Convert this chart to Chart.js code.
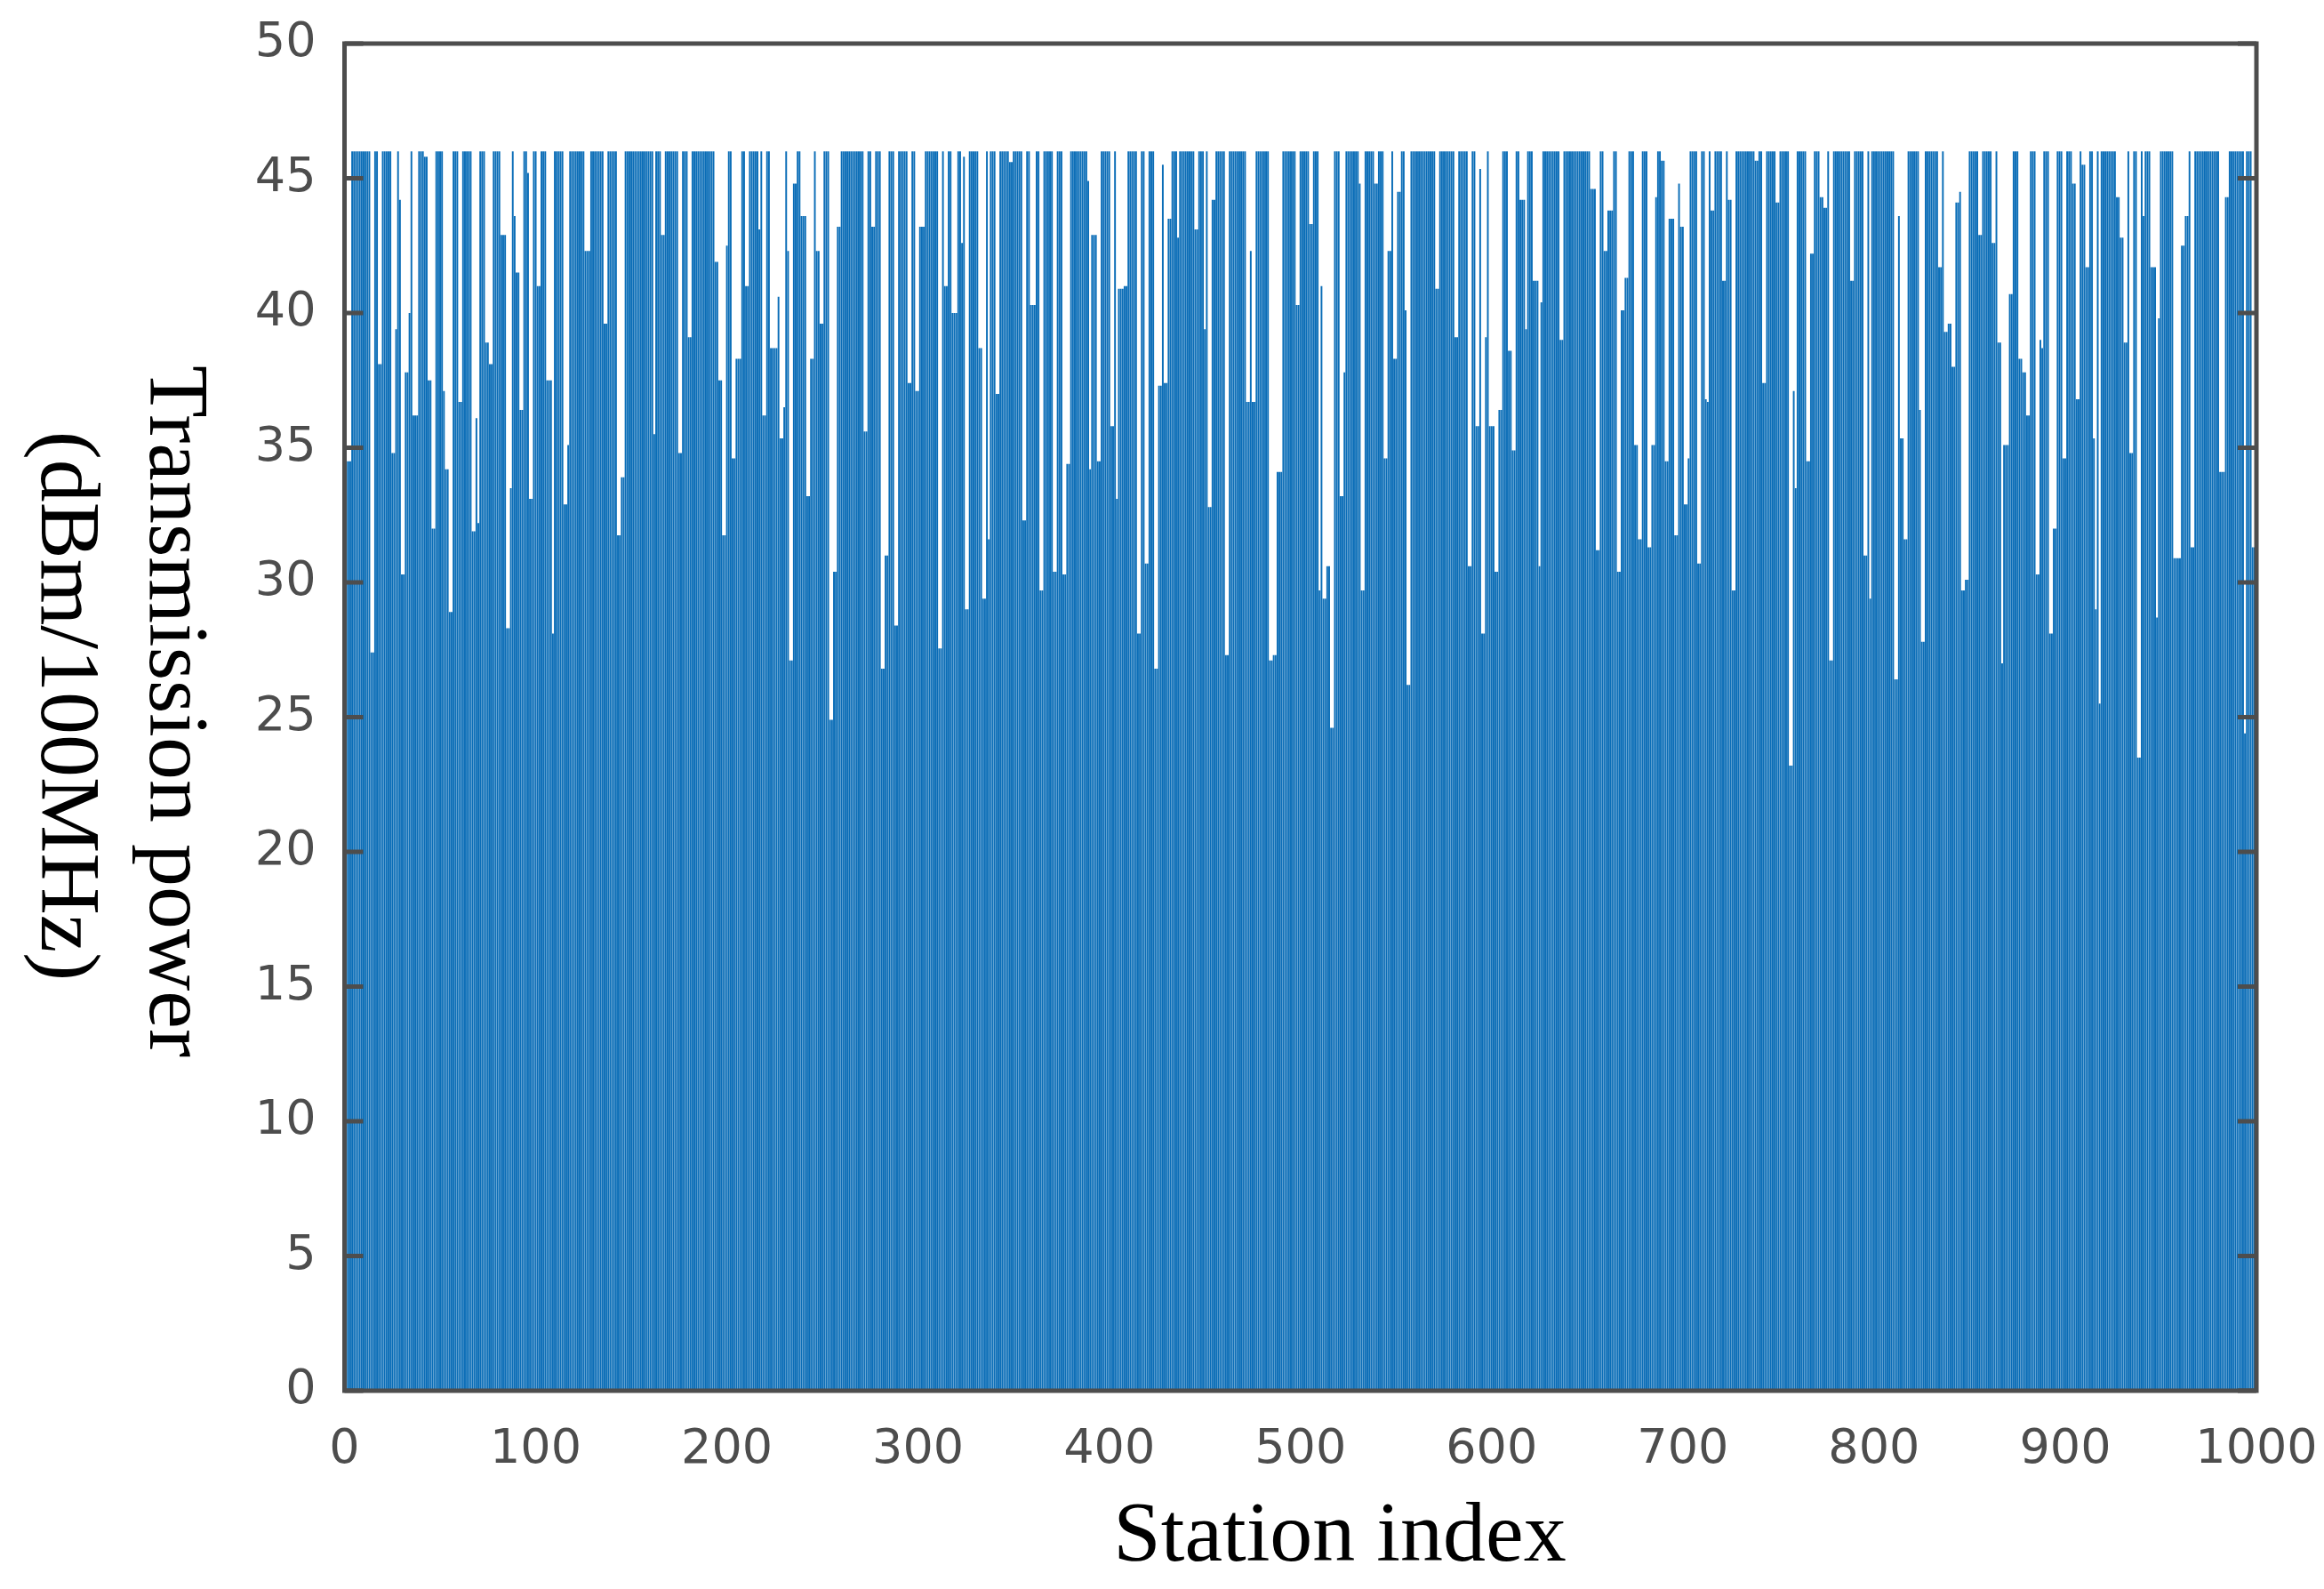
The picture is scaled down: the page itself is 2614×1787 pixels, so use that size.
<!DOCTYPE html>
<html>
<head>
<meta charset="utf-8">
<script src="https://cdn.jsdelivr.net/npm/chart.js@4.4.1/dist/chart.umd.min.js"></script>
<style>
  html, body { margin: 0; padding: 0; background: #ffffff; }
  #wrap { width: 2614px; height: 1787px; }
</style>
</head>
<body>
<div id="wrap"><canvas id="c" width="2614" height="1787"></canvas></div>
<script>
// ---- data ----
const xTicks = [0, 100, 200, 300, 400, 500, 600, 700, 800, 900, 1000];
const yTicks = [0, 5, 10, 15, 20, 25, 30, 35, 40, 45, 50];
const xTitle = 'Station index';
const yTitleLines = ['Transmission power', '(dBm/100MHz)'];

// transmission power of stations 1..1000 (dBm/100MHz)
const power = [
34.5,34.5,34.5,46,46,46,46,46,46,46,
46,46,46,27.4,27.4,46,46,38.1,38.1,46,
46,46,46,46,34.8,34.8,39.4,46,44.2,30.3,
30.3,37.8,37.8,40,46,36.2,36.2,36.2,46,46,
46,45.8,45.8,37.5,37.5,32,32,46,46,46,
46,37.1,34.2,34.2,28.9,28.9,46,46,46,36.7,
36.7,46,46,46,46,46,31.9,31.9,36.1,32.2,
46,46,46,38.9,38.9,38.1,38.1,46,46,46,
46,42.9,42.9,42.9,28.3,28.3,33.5,46,43.6,41.5,
41.5,36.4,36.4,46,46,45.2,33.1,33.1,46,46,
41,41,46,46,46,37.5,37.5,37.5,28.1,46,
46,46,46,46,32.9,32.9,35.1,46,46,46,
46,46,46,46,46,42.3,42.3,42.3,46,46,
46,46,46,46,46,39.6,39.6,46,46,46,
46,46,31.75,31.75,33.9,33.9,46,46,46,46,
46,46,46,46,46,46,46,46,46,46,
46,35.5,46,46,46,42.9,42.9,46,46,46,
46,46,46,46,34.8,34.8,46,46,46,39.1,
39.1,46,46,46,46,46,46,46,46,46,
46,46,46,41.9,41.9,37.5,37.5,31.75,31.75,42.5,
46,46,34.6,34.6,38.3,38.3,38.3,46,46,41,
41,46,46,46,46,46,43.1,46,36.2,36.2,
46,46,38.7,38.7,38.7,38.7,40.6,35.35,35.35,36.5,
46,42.3,27.1,27.1,44.8,44.8,46,46,43.6,43.6,
43.6,33.2,33.2,38.3,38.3,46,42.3,42.3,39.6,39.6,
46,46,46,24.9,24.9,30.4,30.4,43.2,43.2,46,
46,46,46,46,46,46,46,46,46,46,
46,35.6,35.6,46,46,43.2,43.2,46,46,46,
26.8,26.8,31,31,46,46,46,28.4,28.4,46,
46,46,46,46,37.4,37.4,46,46,37.1,37.1,
43.2,43.2,43.2,46,46,46,46,46,46,46,
27.55,27.55,46,41,41,46,46,40,40,40,
46,46,42.6,45.8,29,29,46,46,46,46,
46,38.7,38.7,29.4,29.4,46,31.6,46,46,46,
37,37,46,46,46,46,46,45.6,45.6,46,
46,46,46,46,32.3,32.3,46,46,40.3,40.3,
40.3,46,46,29.7,29.7,46,46,46,46,46,
30.4,30.4,46,46,46,30.3,30.3,34.4,34.4,46,
46,46,46,46,46,46,46,46,44.9,34.2,
42.9,42.9,42.9,34.5,34.5,46,46,46,46,46,
35.8,35.8,46,33.1,40.9,40.9,40.9,41,41,46,
46,46,46,46,28.1,28.1,46,46,30.7,30.7,
46,46,46,26.8,26.8,37.3,37.3,45.5,37.4,37.4,
43.5,43.5,46,46,46,42.8,46,46,46,46,
46,46,46,46,43.1,43.1,46,46,46,39.4,
46,32.8,32.8,44.2,44.2,46,46,46,46,46,
27.3,27.3,46,46,46,46,46,46,46,46,
46,36.7,36.7,42.3,36.7,36.7,46,46,46,46,
46,46,46,27.1,27.1,27.3,27.3,34.1,34.1,34.1,
46,46,46,46,46,46,46,40.3,40.3,46,
46,46,46,46,43.3,43.3,46,46,46,29.7,
41,29.4,29.4,30.6,30.6,24.6,24.6,46,46,46,
33.2,33.2,37.8,46,46,46,46,46,46,46,
44.8,29.7,29.7,46,46,46,46,46,44.8,44.8,
46,46,46,34.6,34.6,42.3,42.3,46,38.3,38.3,
44.5,44.5,46,46,40.1,26.2,26.2,46,46,46,
46,46,46,46,46,46,46,46,46,46,
40.9,40.9,46,46,46,46,46,46,46,46,
39.1,39.1,46,46,46,46,46,30.6,30.6,46,
46,35.8,35.8,45.35,28.1,28.1,39.1,46,35.8,35.8,
35.8,30.4,30.4,36.4,36.4,46,46,46,38.6,38.6,
34.9,34.9,46,46,44.2,44.2,44.2,39.4,46,46,
46,41.2,41.2,41.2,30.6,40.4,46,46,46,46,
46,46,46,46,46,39,39,46,46,46,
46,46,46,46,46,46,46,46,46,46,
46,44.6,44.6,44.6,31.2,31.2,46,46,42.3,42.3,
43.8,43.8,43.8,46,46,30.4,30.4,40.1,40.1,41.3,
41.3,46,46,46,35.1,35.1,31.6,31.6,46,46,
46,31.3,31.3,35.1,35.1,44.3,46,46,45.65,45.65,
34.5,34.5,43.5,43.5,43.5,31.75,31.75,44.8,43.2,43.2,
32.9,32.9,34.6,46,46,46,46,30.7,30.7,46,
46,36.8,36.7,46,43.8,43.8,46,46,46,46,
41.2,41.2,46,44.2,44.2,29.7,29.7,46,46,46,
46,46,46,46,46,46,46,45.65,45.65,46,
46,37.4,37.4,46,46,46,46,46,44.1,44.1,
46,46,46,46,46,23.2,23.2,37.1,33.5,46,
46,46,46,46,34.5,34.5,42.2,42.2,46,46,
46,44.3,44.3,43.9,43.9,46,27.1,27.1,46,46,
46,46,46,46,46,46,46,41.2,41.2,46,
46,46,46,46,31,31,46,29.4,46,46,
46,46,46,46,46,46,46,46,46,46,
26.4,26.4,43.6,35.35,35.35,31.6,31.6,46,46,46,
46,46,46,36.4,27.8,27.8,46,46,46,46,
46,46,46,41.7,41.7,46,39.3,39.3,39.6,39.6,
38,38,44.1,44.1,44.5,29.7,29.7,30.1,30.1,46,
46,46,46,46,42.9,42.9,46,46,46,46,
46,42.6,42.6,46,38.9,38.9,27,35.1,35.1,35.1,
40.7,40.7,46,46,46,38.3,38.3,37.8,37.8,36.2,
36.2,46,46,46,30.3,30.3,39,38.7,46,46,
46,28.1,28.1,32,32,46,46,46,34.6,34.6,
46,46,46,44.8,44.8,36.8,36.8,46,45.5,45.5,
41.7,41.7,46,46,35.35,29,46,25.5,46,46,
46,46,46,46,46,46,44.3,44.3,42.8,42.8,
38.9,38.9,46,34.8,34.8,46,46,23.5,23.5,46,
43.6,46,46,46,41.7,41.7,41.7,28.7,39.8,46,
46,46,46,46,46,46,30.9,30.9,30.9,30.9,
42.5,42.5,43.6,43.6,46,31.3,31.3,46,46,46,
46,46,46,46,46,46,46,46,46,46,
34.1,34.1,34.1,44.3,44.3,46,46,46,46,46,
46,46,46,24.4,46,46,46,31.3,31.3,31.3
];
// station indices (categories) 1..N
const stations = power.map((_, i) => i + 1);

// ---- styling ----
const barColor = '#0A6DB7';
const axisColor = '#4D4D4D';
const tickFont = { family: 'DejaVu Sans', size: 54 };
const titleFont = '96px "Liberation Serif", "Times New Roman", serif';
// target plot box (pixels)
const box = { left: 387.5, top: 49, right: 2538, bottom: 1564 };

const framePlugin = {
  id: 'frame',
  afterDatasetsDraw(chart) {
    const { ctx, chartArea: a, scales: { y } } = chart;
    ctx.save();
    ctx.strokeStyle = axisColor;
    ctx.lineWidth = 5;
    ctx.strokeRect(a.left, a.top, a.right - a.left, a.bottom - a.top);
    const len = 21;
    ctx.beginPath();
    yTicks.forEach(v => {
      const p = y.getPixelForValue(v);
      ctx.moveTo(a.left, p); ctx.lineTo(a.left + len, p);
      ctx.moveTo(a.right, p); ctx.lineTo(a.right - len, p);
    });
    ctx.stroke();

    // axis titles
    ctx.fillStyle = '#000000';
    ctx.font = titleFont;
    ctx.textAlign = 'center';
    ctx.textBaseline = 'alphabetic';
    ctx.fillText(xTitle, 1507, 1755);

    const ypos = [[169, 800], [47, 794]];
    yTitleLines.forEach((t, i) => {
      ctx.save();
      ctx.translate(ypos[i][0], ypos[i][1]);
      ctx.rotate(Math.PI / 2);
      ctx.fillText(t, 0, 0);
      ctx.restore();
    });
    ctx.restore();
  }
};

const pad = { left: 0, top: 49, right: 76, bottom: 0 };
const sizes = { yW: 387.5, xH: 223 };

const chart = new Chart(document.getElementById('c'), {
  type: 'bar',
  data: {
    labels: stations,
    datasets: [{
      data: power,
      backgroundColor: barColor,
      borderWidth: 0,
      barPercentage: 0.9,
      categoryPercentage: 1.0
    }]
  },
  options: {
    responsive: false,
    animation: false,
    devicePixelRatio: 1,
    layout: { padding: pad, autoPadding: false },
    plugins: { legend: { display: false }, tooltip: { enabled: false } },
    scales: {
      x: {
        type: 'linear',
        min: 0, max: 1000,
        offset: false,
        grid: { display: false, drawTicks: true, tickLength: 35 },
        border: { display: false },
        afterBuildTicks: s => { s.ticks = xTicks.map(v => ({ value: v })); },
        ticks: { autoSkip: false, maxRotation: 0, font: tickFont, color: axisColor, padding: 0,
                 callback: v => String(v) },
        afterFit: s => { s.height = sizes.xH; }
      },
      y: {
        min: 0, max: 50,
        grid: { display: false, drawTicks: true, tickLength: 32 },
        border: { display: false },
        afterBuildTicks: s => { s.ticks = yTicks.map(v => ({ value: v })); },
        ticks: { font: tickFont, color: axisColor, padding: 0, callback: v => String(v) },
        afterFit: s => { s.width = sizes.yW; }
      }
    }
  },
  plugins: [framePlugin]
});

// nudge the layout so that the plot box lands on the reference position
for (let k = 0; k < 4; k++) {
  const a = chart.chartArea;
  sizes.yW += box.left - a.left;
  pad.top = Math.max(0, pad.top + box.top - a.top);
  pad.right = Math.max(0, pad.right + a.right - box.right);
  sizes.xH += a.bottom - box.bottom;
  chart.options.layout.padding = Object.assign({}, pad);
  chart.update('none');
}
</script>
</body>
</html>
